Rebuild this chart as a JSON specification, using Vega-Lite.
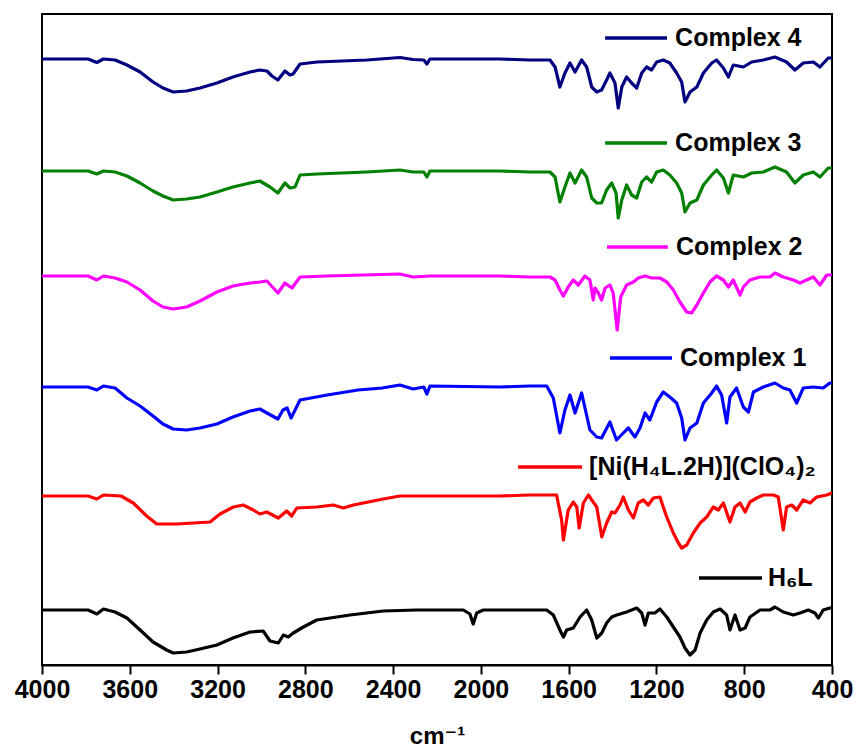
{
  "$schema": "https://vega.github.io/schema/vega-lite/v6.json",
  "autosize": "none",
  "width": 790,
  "height": 651,
  "padding": {"left": 42, "top": 14, "right": 28, "bottom": 87},
  "background": "white",
  "config": {
    "view": {"stroke": "#000000", "strokeWidth": 2},
    "axis": {"grid": false}
  },
  "datasets": {
    "spectra": [
      {"s":"Complex 4","wn":4000,"v":606},{"s":"Complex 4","wn":3790,"v":606},{"s":"Complex 4","wn":3750,"v":602.5},{"s":"Complex 4","wn":3720,"v":606},{"s":"Complex 4","wn":3667,"v":605},{"s":"Complex 4","wn":3613,"v":600},{"s":"Complex 4","wn":3553,"v":593},{"s":"Complex 4","wn":3494,"v":583},{"s":"Complex 4","wn":3449,"v":577},{"s":"Complex 4","wn":3402,"v":573},{"s":"Complex 4","wn":3341,"v":574},{"s":"Complex 4","wn":3280,"v":577},{"s":"Complex 4","wn":3203,"v":582},{"s":"Complex 4","wn":3130,"v":588},{"s":"Complex 4","wn":3052,"v":593},{"s":"Complex 4","wn":3007,"v":595},{"s":"Complex 4","wn":2975,"v":594},{"s":"Complex 4","wn":2952,"v":589},{"s":"Complex 4","wn":2925,"v":585},{"s":"Complex 4","wn":2893,"v":594},{"s":"Complex 4","wn":2870,"v":590},{"s":"Complex 4","wn":2856,"v":591},{"s":"Complex 4","wn":2824,"v":601},{"s":"Complex 4","wn":2747,"v":603},{"s":"Complex 4","wn":2519,"v":605},{"s":"Complex 4","wn":2369,"v":607.5},{"s":"Complex 4","wn":2309,"v":605.5},{"s":"Complex 4","wn":2260,"v":605},{"s":"Complex 4","wn":2246,"v":601},{"s":"Complex 4","wn":2232,"v":606},{"s":"Complex 4","wn":1913,"v":606},{"s":"Complex 4","wn":1776,"v":605},{"s":"Complex 4","wn":1685,"v":605},{"s":"Complex 4","wn":1662,"v":598},{"s":"Complex 4","wn":1640,"v":578},{"s":"Complex 4","wn":1617,"v":592},{"s":"Complex 4","wn":1594,"v":602},{"s":"Complex 4","wn":1571,"v":593},{"s":"Complex 4","wn":1541,"v":605},{"s":"Complex 4","wn":1518,"v":598},{"s":"Complex 4","wn":1495,"v":578},{"s":"Complex 4","wn":1472,"v":573},{"s":"Complex 4","wn":1450,"v":575},{"s":"Complex 4","wn":1427,"v":585},{"s":"Complex 4","wn":1412,"v":592},{"s":"Complex 4","wn":1389,"v":582},{"s":"Complex 4","wn":1374,"v":557},{"s":"Complex 4","wn":1358,"v":578},{"s":"Complex 4","wn":1336,"v":588},{"s":"Complex 4","wn":1313,"v":582},{"s":"Complex 4","wn":1290,"v":577},{"s":"Complex 4","wn":1267,"v":592},{"s":"Complex 4","wn":1245,"v":598},{"s":"Complex 4","wn":1222,"v":595},{"s":"Complex 4","wn":1199,"v":603},{"s":"Complex 4","wn":1169,"v":605},{"s":"Complex 4","wn":1139,"v":602},{"s":"Complex 4","wn":1108,"v":592},{"s":"Complex 4","wn":1085,"v":583},{"s":"Complex 4","wn":1070,"v":563},{"s":"Complex 4","wn":1047,"v":573},{"s":"Complex 4","wn":1016,"v":578},{"s":"Complex 4","wn":986,"v":592},{"s":"Complex 4","wn":948,"v":602},{"s":"Complex 4","wn":926,"v":605},{"s":"Complex 4","wn":895,"v":597},{"s":"Complex 4","wn":872,"v":588},{"s":"Complex 4","wn":850,"v":600},{"s":"Complex 4","wn":804,"v":598},{"s":"Complex 4","wn":766,"v":603},{"s":"Complex 4","wn":713,"v":605},{"s":"Complex 4","wn":660,"v":608},{"s":"Complex 4","wn":607,"v":603},{"s":"Complex 4","wn":569,"v":595},{"s":"Complex 4","wn":531,"v":602},{"s":"Complex 4","wn":485,"v":603},{"s":"Complex 4","wn":455,"v":598},{"s":"Complex 4","wn":417,"v":607},{"s":"Complex 4","wn":401,"v":607},

      {"s":"Complex 3","wn":4000,"v":494},{"s":"Complex 3","wn":3790,"v":494},{"s":"Complex 3","wn":3750,"v":491},{"s":"Complex 3","wn":3720,"v":494},{"s":"Complex 3","wn":3667,"v":493},{"s":"Complex 3","wn":3613,"v":489},{"s":"Complex 3","wn":3553,"v":482},{"s":"Complex 3","wn":3494,"v":474},{"s":"Complex 3","wn":3449,"v":469},{"s":"Complex 3","wn":3402,"v":465},{"s":"Complex 3","wn":3341,"v":466},{"s":"Complex 3","wn":3280,"v":468},{"s":"Complex 3","wn":3203,"v":473},{"s":"Complex 3","wn":3130,"v":478},{"s":"Complex 3","wn":3052,"v":482},{"s":"Complex 3","wn":3007,"v":484},{"s":"Complex 3","wn":2961,"v":478},{"s":"Complex 3","wn":2925,"v":472},{"s":"Complex 3","wn":2893,"v":482},{"s":"Complex 3","wn":2870,"v":477},{"s":"Complex 3","wn":2847,"v":478},{"s":"Complex 3","wn":2824,"v":490},{"s":"Complex 3","wn":2747,"v":491},{"s":"Complex 3","wn":2519,"v":493},{"s":"Complex 3","wn":2369,"v":495},{"s":"Complex 3","wn":2309,"v":493},{"s":"Complex 3","wn":2260,"v":493},{"s":"Complex 3","wn":2246,"v":488},{"s":"Complex 3","wn":2232,"v":494},{"s":"Complex 3","wn":1913,"v":494},{"s":"Complex 3","wn":1776,"v":493},{"s":"Complex 3","wn":1685,"v":493},{"s":"Complex 3","wn":1662,"v":488},{"s":"Complex 3","wn":1640,"v":463},{"s":"Complex 3","wn":1617,"v":478},{"s":"Complex 3","wn":1594,"v":492},{"s":"Complex 3","wn":1571,"v":482},{"s":"Complex 3","wn":1541,"v":495},{"s":"Complex 3","wn":1518,"v":488},{"s":"Complex 3","wn":1495,"v":467},{"s":"Complex 3","wn":1472,"v":462},{"s":"Complex 3","wn":1450,"v":462},{"s":"Complex 3","wn":1427,"v":475},{"s":"Complex 3","wn":1404,"v":482},{"s":"Complex 3","wn":1384,"v":472},{"s":"Complex 3","wn":1374,"v":447},{"s":"Complex 3","wn":1358,"v":465},{"s":"Complex 3","wn":1336,"v":480},{"s":"Complex 3","wn":1313,"v":470},{"s":"Complex 3","wn":1290,"v":467},{"s":"Complex 3","wn":1267,"v":483},{"s":"Complex 3","wn":1245,"v":488},{"s":"Complex 3","wn":1222,"v":483},{"s":"Complex 3","wn":1199,"v":493},{"s":"Complex 3","wn":1169,"v":495},{"s":"Complex 3","wn":1139,"v":490},{"s":"Complex 3","wn":1108,"v":482},{"s":"Complex 3","wn":1085,"v":472},{"s":"Complex 3","wn":1070,"v":453},{"s":"Complex 3","wn":1047,"v":462},{"s":"Complex 3","wn":1016,"v":465},{"s":"Complex 3","wn":986,"v":480},{"s":"Complex 3","wn":948,"v":490},{"s":"Complex 3","wn":926,"v":495},{"s":"Complex 3","wn":895,"v":487},{"s":"Complex 3","wn":872,"v":472},{"s":"Complex 3","wn":850,"v":490},{"s":"Complex 3","wn":804,"v":488},{"s":"Complex 3","wn":766,"v":492},{"s":"Complex 3","wn":713,"v":493},{"s":"Complex 3","wn":660,"v":498},{"s":"Complex 3","wn":607,"v":493},{"s":"Complex 3","wn":569,"v":482},{"s":"Complex 3","wn":531,"v":490},{"s":"Complex 3","wn":485,"v":493},{"s":"Complex 3","wn":455,"v":488},{"s":"Complex 3","wn":417,"v":497},{"s":"Complex 3","wn":401,"v":497},

      {"s":"Complex 2","wn":4000,"v":389},{"s":"Complex 2","wn":3790,"v":389},{"s":"Complex 2","wn":3750,"v":385},{"s":"Complex 2","wn":3720,"v":389},{"s":"Complex 2","wn":3667,"v":387},{"s":"Complex 2","wn":3613,"v":383},{"s":"Complex 2","wn":3553,"v":375},{"s":"Complex 2","wn":3494,"v":364},{"s":"Complex 2","wn":3449,"v":358},{"s":"Complex 2","wn":3402,"v":356},{"s":"Complex 2","wn":3341,"v":358},{"s":"Complex 2","wn":3280,"v":364},{"s":"Complex 2","wn":3203,"v":373},{"s":"Complex 2","wn":3130,"v":379},{"s":"Complex 2","wn":3052,"v":382},{"s":"Complex 2","wn":3007,"v":383},{"s":"Complex 2","wn":2975,"v":384},{"s":"Complex 2","wn":2925,"v":372},{"s":"Complex 2","wn":2893,"v":382},{"s":"Complex 2","wn":2861,"v":377},{"s":"Complex 2","wn":2824,"v":388},{"s":"Complex 2","wn":2700,"v":389},{"s":"Complex 2","wn":2369,"v":391},{"s":"Complex 2","wn":2309,"v":388},{"s":"Complex 2","wn":2232,"v":389},{"s":"Complex 2","wn":1913,"v":389},{"s":"Complex 2","wn":1776,"v":388},{"s":"Complex 2","wn":1685,"v":388},{"s":"Complex 2","wn":1662,"v":385},{"s":"Complex 2","wn":1640,"v":375},{"s":"Complex 2","wn":1624,"v":369},{"s":"Complex 2","wn":1602,"v":378},{"s":"Complex 2","wn":1579,"v":385},{"s":"Complex 2","wn":1556,"v":380},{"s":"Complex 2","wn":1526,"v":389},{"s":"Complex 2","wn":1503,"v":385},{"s":"Complex 2","wn":1488,"v":365},{"s":"Complex 2","wn":1480,"v":377},{"s":"Complex 2","wn":1465,"v":372},{"s":"Complex 2","wn":1450,"v":365},{"s":"Complex 2","wn":1434,"v":377},{"s":"Complex 2","wn":1412,"v":380},{"s":"Complex 2","wn":1397,"v":372},{"s":"Complex 2","wn":1379,"v":335},{"s":"Complex 2","wn":1363,"v":368},{"s":"Complex 2","wn":1336,"v":380},{"s":"Complex 2","wn":1305,"v":383},{"s":"Complex 2","wn":1283,"v":387},{"s":"Complex 2","wn":1252,"v":389},{"s":"Complex 2","wn":1222,"v":387},{"s":"Complex 2","wn":1184,"v":387},{"s":"Complex 2","wn":1153,"v":383},{"s":"Complex 2","wn":1123,"v":375},{"s":"Complex 2","wn":1093,"v":363},{"s":"Complex 2","wn":1062,"v":353},{"s":"Complex 2","wn":1040,"v":352},{"s":"Complex 2","wn":1016,"v":360},{"s":"Complex 2","wn":986,"v":372},{"s":"Complex 2","wn":956,"v":383},{"s":"Complex 2","wn":926,"v":389},{"s":"Complex 2","wn":895,"v":385},{"s":"Complex 2","wn":872,"v":378},{"s":"Complex 2","wn":850,"v":385},{"s":"Complex 2","wn":819,"v":370},{"s":"Complex 2","wn":804,"v":378},{"s":"Complex 2","wn":774,"v":385},{"s":"Complex 2","wn":728,"v":388},{"s":"Complex 2","wn":683,"v":388},{"s":"Complex 2","wn":660,"v":392},{"s":"Complex 2","wn":622,"v":388},{"s":"Complex 2","wn":576,"v":385},{"s":"Complex 2","wn":546,"v":382},{"s":"Complex 2","wn":516,"v":385},{"s":"Complex 2","wn":485,"v":388},{"s":"Complex 2","wn":455,"v":380},{"s":"Complex 2","wn":424,"v":390},{"s":"Complex 2","wn":401,"v":390},

      {"s":"Complex 1","wn":4000,"v":278},{"s":"Complex 1","wn":3790,"v":278},{"s":"Complex 1","wn":3750,"v":275},{"s":"Complex 1","wn":3720,"v":279},{"s":"Complex 1","wn":3667,"v":277},{"s":"Complex 1","wn":3613,"v":267},{"s":"Complex 1","wn":3553,"v":259},{"s":"Complex 1","wn":3494,"v":249},{"s":"Complex 1","wn":3449,"v":241},{"s":"Complex 1","wn":3402,"v":236},{"s":"Complex 1","wn":3341,"v":235},{"s":"Complex 1","wn":3280,"v":237},{"s":"Complex 1","wn":3203,"v":241},{"s":"Complex 1","wn":3130,"v":248},{"s":"Complex 1","wn":3052,"v":254},{"s":"Complex 1","wn":3007,"v":256},{"s":"Complex 1","wn":2975,"v":252},{"s":"Complex 1","wn":2925,"v":246},{"s":"Complex 1","wn":2902,"v":255},{"s":"Complex 1","wn":2883,"v":257},{"s":"Complex 1","wn":2865,"v":247},{"s":"Complex 1","wn":2824,"v":265},{"s":"Complex 1","wn":2700,"v":270},{"s":"Complex 1","wn":2560,"v":275},{"s":"Complex 1","wn":2450,"v":277},{"s":"Complex 1","wn":2369,"v":280},{"s":"Complex 1","wn":2309,"v":276},{"s":"Complex 1","wn":2260,"v":278},{"s":"Complex 1","wn":2246,"v":271},{"s":"Complex 1","wn":2232,"v":279},{"s":"Complex 1","wn":1913,"v":278},{"s":"Complex 1","wn":1776,"v":279},{"s":"Complex 1","wn":1700,"v":279},{"s":"Complex 1","wn":1670,"v":267},{"s":"Complex 1","wn":1640,"v":232},{"s":"Complex 1","wn":1617,"v":255},{"s":"Complex 1","wn":1594,"v":270},{"s":"Complex 1","wn":1571,"v":252},{"s":"Complex 1","wn":1541,"v":272},{"s":"Complex 1","wn":1503,"v":235},{"s":"Complex 1","wn":1472,"v":228},{"s":"Complex 1","wn":1450,"v":227},{"s":"Complex 1","wn":1412,"v":243},{"s":"Complex 1","wn":1382,"v":225},{"s":"Complex 1","wn":1351,"v":232},{"s":"Complex 1","wn":1328,"v":237},{"s":"Complex 1","wn":1298,"v":228},{"s":"Complex 1","wn":1275,"v":237},{"s":"Complex 1","wn":1252,"v":252},{"s":"Complex 1","wn":1230,"v":245},{"s":"Complex 1","wn":1199,"v":263},{"s":"Complex 1","wn":1169,"v":273},{"s":"Complex 1","wn":1139,"v":268},{"s":"Complex 1","wn":1108,"v":262},{"s":"Complex 1","wn":1085,"v":247},{"s":"Complex 1","wn":1070,"v":225},{"s":"Complex 1","wn":1047,"v":237},{"s":"Complex 1","wn":1016,"v":242},{"s":"Complex 1","wn":986,"v":262},{"s":"Complex 1","wn":948,"v":272},{"s":"Complex 1","wn":926,"v":279},{"s":"Complex 1","wn":903,"v":270},{"s":"Complex 1","wn":880,"v":242},{"s":"Complex 1","wn":865,"v":268},{"s":"Complex 1","wn":835,"v":277},{"s":"Complex 1","wn":804,"v":258},{"s":"Complex 1","wn":781,"v":253},{"s":"Complex 1","wn":758,"v":273},{"s":"Complex 1","wn":713,"v":278},{"s":"Complex 1","wn":660,"v":282},{"s":"Complex 1","wn":622,"v":277},{"s":"Complex 1","wn":592,"v":275},{"s":"Complex 1","wn":561,"v":262},{"s":"Complex 1","wn":531,"v":277},{"s":"Complex 1","wn":485,"v":278},{"s":"Complex 1","wn":440,"v":277},{"s":"Complex 1","wn":410,"v":282},{"s":"Complex 1","wn":401,"v":282},

      {"s":"[Ni(H₄L.2H)](ClO₄)₂","wn":4000,"v":169},{"s":"[Ni(H₄L.2H)](ClO₄)₂","wn":3790,"v":169},{"s":"[Ni(H₄L.2H)](ClO₄)₂","wn":3750,"v":166},{"s":"[Ni(H₄L.2H)](ClO₄)₂","wn":3720,"v":170},{"s":"[Ni(H₄L.2H)](ClO₄)₂","wn":3640,"v":169},{"s":"[Ni(H₄L.2H)](ClO₄)₂","wn":3584,"v":162},{"s":"[Ni(H₄L.2H)](ClO₄)₂","wn":3523,"v":149},{"s":"[Ni(H₄L.2H)](ClO₄)₂","wn":3477,"v":141},{"s":"[Ni(H₄L.2H)](ClO₄)₂","wn":3386,"v":141},{"s":"[Ni(H₄L.2H)](ClO₄)₂","wn":3310,"v":142},{"s":"[Ni(H₄L.2H)](ClO₄)₂","wn":3234,"v":143},{"s":"[Ni(H₄L.2H)](ClO₄)₂","wn":3189,"v":151},{"s":"[Ni(H₄L.2H)](ClO₄)₂","wn":3128,"v":158},{"s":"[Ni(H₄L.2H)](ClO₄)₂","wn":3083,"v":160},{"s":"[Ni(H₄L.2H)](ClO₄)₂","wn":3037,"v":155},{"s":"[Ni(H₄L.2H)](ClO₄)₂","wn":3007,"v":151},{"s":"[Ni(H₄L.2H)](ClO₄)₂","wn":2976,"v":153},{"s":"[Ni(H₄L.2H)](ClO₄)₂","wn":2923,"v":147},{"s":"[Ni(H₄L.2H)](ClO₄)₂","wn":2885,"v":154},{"s":"[Ni(H₄L.2H)](ClO₄)₂","wn":2862,"v":149},{"s":"[Ni(H₄L.2H)](ClO₄)₂","wn":2839,"v":157},{"s":"[Ni(H₄L.2H)](ClO₄)₂","wn":2748,"v":158},{"s":"[Ni(H₄L.2H)](ClO₄)₂","wn":2672,"v":160},{"s":"[Ni(H₄L.2H)](ClO₄)₂","wn":2627,"v":157},{"s":"[Ni(H₄L.2H)](ClO₄)₂","wn":2581,"v":160},{"s":"[Ni(H₄L.2H)](ClO₄)₂","wn":2445,"v":166},{"s":"[Ni(H₄L.2H)](ClO₄)₂","wn":2369,"v":169},{"s":"[Ni(H₄L.2H)](ClO₄)₂","wn":2217,"v":169},{"s":"[Ni(H₄L.2H)](ClO₄)₂","wn":2035,"v":169},{"s":"[Ni(H₄L.2H)](ClO₄)₂","wn":1913,"v":169},{"s":"[Ni(H₄L.2H)](ClO₄)₂","wn":1776,"v":170},{"s":"[Ni(H₄L.2H)](ClO₄)₂","wn":1655,"v":170},{"s":"[Ni(H₄L.2H)](ClO₄)₂","wn":1632,"v":145},{"s":"[Ni(H₄L.2H)](ClO₄)₂","wn":1624,"v":125},{"s":"[Ni(H₄L.2H)](ClO₄)₂","wn":1602,"v":155},{"s":"[Ni(H₄L.2H)](ClO₄)₂","wn":1579,"v":163},{"s":"[Ni(H₄L.2H)](ClO₄)₂","wn":1563,"v":158},{"s":"[Ni(H₄L.2H)](ClO₄)₂","wn":1552,"v":137},{"s":"[Ni(H₄L.2H)](ClO₄)₂","wn":1533,"v":162},{"s":"[Ni(H₄L.2H)](ClO₄)₂","wn":1510,"v":170},{"s":"[Ni(H₄L.2H)](ClO₄)₂","wn":1495,"v":165},{"s":"[Ni(H₄L.2H)](ClO₄)₂","wn":1472,"v":158},{"s":"[Ni(H₄L.2H)](ClO₄)₂","wn":1449,"v":128},{"s":"[Ni(H₄L.2H)](ClO₄)₂","wn":1427,"v":142},{"s":"[Ni(H₄L.2H)](ClO₄)₂","wn":1404,"v":153},{"s":"[Ni(H₄L.2H)](ClO₄)₂","wn":1389,"v":152},{"s":"[Ni(H₄L.2H)](ClO₄)₂","wn":1366,"v":160},{"s":"[Ni(H₄L.2H)](ClO₄)₂","wn":1351,"v":168},{"s":"[Ni(H₄L.2H)](ClO₄)₂","wn":1328,"v":155},{"s":"[Ni(H₄L.2H)](ClO₄)₂","wn":1305,"v":147},{"s":"[Ni(H₄L.2H)](ClO₄)₂","wn":1283,"v":162},{"s":"[Ni(H₄L.2H)](ClO₄)₂","wn":1260,"v":165},{"s":"[Ni(H₄L.2H)](ClO₄)₂","wn":1237,"v":160},{"s":"[Ni(H₄L.2H)](ClO₄)₂","wn":1214,"v":167},{"s":"[Ni(H₄L.2H)](ClO₄)₂","wn":1184,"v":168},{"s":"[Ni(H₄L.2H)](ClO₄)₂","wn":1169,"v":158},{"s":"[Ni(H₄L.2H)](ClO₄)₂","wn":1153,"v":148},{"s":"[Ni(H₄L.2H)](ClO₄)₂","wn":1123,"v":132},{"s":"[Ni(H₄L.2H)](ClO₄)₂","wn":1100,"v":122},{"s":"[Ni(H₄L.2H)](ClO₄)₂","wn":1085,"v":117},{"s":"[Ni(H₄L.2H)](ClO₄)₂","wn":1062,"v":120},{"s":"[Ni(H₄L.2H)](ClO₄)₂","wn":1032,"v":132},{"s":"[Ni(H₄L.2H)](ClO₄)₂","wn":1001,"v":142},{"s":"[Ni(H₄L.2H)](ClO₄)₂","wn":971,"v":148},{"s":"[Ni(H₄L.2H)](ClO₄)₂","wn":941,"v":158},{"s":"[Ni(H₄L.2H)](ClO₄)₂","wn":918,"v":155},{"s":"[Ni(H₄L.2H)](ClO₄)₂","wn":895,"v":162},{"s":"[Ni(H₄L.2H)](ClO₄)₂","wn":865,"v":143},{"s":"[Ni(H₄L.2H)](ClO₄)₂","wn":842,"v":158},{"s":"[Ni(H₄L.2H)](ClO₄)₂","wn":819,"v":162},{"s":"[Ni(H₄L.2H)](ClO₄)₂","wn":796,"v":153},{"s":"[Ni(H₄L.2H)](ClO₄)₂","wn":774,"v":163},{"s":"[Ni(H₄L.2H)](ClO₄)₂","wn":743,"v":167},{"s":"[Ni(H₄L.2H)](ClO₄)₂","wn":713,"v":170},{"s":"[Ni(H₄L.2H)](ClO₄)₂","wn":667,"v":170},{"s":"[Ni(H₄L.2H)](ClO₄)₂","wn":645,"v":168},{"s":"[Ni(H₄L.2H)](ClO₄)₂","wn":622,"v":135},{"s":"[Ni(H₄L.2H)](ClO₄)₂","wn":607,"v":158},{"s":"[Ni(H₄L.2H)](ClO₄)₂","wn":584,"v":160},{"s":"[Ni(H₄L.2H)](ClO₄)₂","wn":561,"v":155},{"s":"[Ni(H₄L.2H)](ClO₄)₂","wn":531,"v":165},{"s":"[Ni(H₄L.2H)](ClO₄)₂","wn":500,"v":162},{"s":"[Ni(H₄L.2H)](ClO₄)₂","wn":470,"v":168},{"s":"[Ni(H₄L.2H)](ClO₄)₂","wn":424,"v":170},{"s":"[Ni(H₄L.2H)](ClO₄)₂","wn":401,"v":172},

      {"s":"H₆L","wn":4000,"v":55},{"s":"H₆L","wn":3790,"v":55},{"s":"H₆L","wn":3750,"v":51},{"s":"H₆L","wn":3720,"v":56},{"s":"H₆L","wn":3667,"v":53},{"s":"H₆L","wn":3613,"v":47},{"s":"H₆L","wn":3553,"v":35},{"s":"H₆L","wn":3494,"v":23},{"s":"H₆L","wn":3432,"v":15},{"s":"H₆L","wn":3402,"v":12},{"s":"H₆L","wn":3341,"v":13},{"s":"H₆L","wn":3280,"v":16},{"s":"H₆L","wn":3203,"v":20},{"s":"H₆L","wn":3130,"v":27},{"s":"H₆L","wn":3052,"v":33},{"s":"H₆L","wn":2992,"v":34},{"s":"H₆L","wn":2961,"v":24},{"s":"H₆L","wn":2923,"v":22},{"s":"H₆L","wn":2900,"v":30},{"s":"H₆L","wn":2878,"v":28},{"s":"H₆L","wn":2855,"v":32},{"s":"H₆L","wn":2809,"v":38},{"s":"H₆L","wn":2748,"v":45},{"s":"H₆L","wn":2596,"v":50},{"s":"H₆L","wn":2445,"v":54},{"s":"H₆L","wn":2293,"v":55},{"s":"H₆L","wn":2080,"v":55},{"s":"H₆L","wn":2050,"v":51},{"s":"H₆L","wn":2035,"v":41},{"s":"H₆L","wn":2019,"v":52},{"s":"H₆L","wn":1989,"v":55},{"s":"H₆L","wn":1913,"v":55},{"s":"H₆L","wn":1776,"v":55},{"s":"H₆L","wn":1700,"v":55},{"s":"H₆L","wn":1670,"v":50},{"s":"H₆L","wn":1640,"v":35},{"s":"H₆L","wn":1624,"v":28},{"s":"H₆L","wn":1609,"v":35},{"s":"H₆L","wn":1579,"v":37},{"s":"H₆L","wn":1548,"v":48},{"s":"H₆L","wn":1518,"v":55},{"s":"H₆L","wn":1495,"v":45},{"s":"H₆L","wn":1472,"v":27},{"s":"H₆L","wn":1449,"v":32},{"s":"H₆L","wn":1427,"v":42},{"s":"H₆L","wn":1404,"v":48},{"s":"H₆L","wn":1381,"v":50},{"s":"H₆L","wn":1336,"v":53},{"s":"H₆L","wn":1290,"v":57},{"s":"H₆L","wn":1267,"v":52},{"s":"H₆L","wn":1252,"v":40},{"s":"H₆L","wn":1237,"v":52},{"s":"H₆L","wn":1207,"v":52},{"s":"H₆L","wn":1184,"v":56},{"s":"H₆L","wn":1153,"v":48},{"s":"H₆L","wn":1123,"v":38},{"s":"H₆L","wn":1093,"v":28},{"s":"H₆L","wn":1070,"v":17},{"s":"H₆L","wn":1047,"v":10},{"s":"H₆L","wn":1024,"v":15},{"s":"H₆L","wn":1001,"v":32},{"s":"H₆L","wn":971,"v":45},{"s":"H₆L","wn":941,"v":53},{"s":"H₆L","wn":910,"v":56},{"s":"H₆L","wn":880,"v":50},{"s":"H₆L","wn":865,"v":35},{"s":"H₆L","wn":842,"v":50},{"s":"H₆L","wn":819,"v":35},{"s":"H₆L","wn":796,"v":37},{"s":"H₆L","wn":774,"v":48},{"s":"H₆L","wn":728,"v":55},{"s":"H₆L","wn":683,"v":55},{"s":"H₆L","wn":660,"v":58},{"s":"H₆L","wn":622,"v":53},{"s":"H₆L","wn":576,"v":50},{"s":"H₆L","wn":546,"v":52},{"s":"H₆L","wn":508,"v":55},{"s":"H₆L","wn":478,"v":52},{"s":"H₆L","wn":462,"v":47},{"s":"H₆L","wn":440,"v":55},{"s":"H₆L","wn":410,"v":57},{"s":"H₆L","wn":401,"v":57}
    ],
    "labels": [
      {"s":"Complex 4","x1":1434,"x2":1152,"xt":1115,"y":627},
      {"s":"Complex 3","x1":1434,"x2":1152,"xt":1115,"y":522},
      {"s":"Complex 2","x1":1425,"x2":1148,"xt":1111,"y":418},
      {"s":"Complex 1","x1":1412,"x2":1129,"xt":1093,"y":307},
      {"s":"[Ni(H₄L.2H)](ClO₄)₂","x1":1831,"x2":1539,"xt":1507,"y":198},
      {"s":"H₆L","x1":1006,"x2":719,"xt":692,"y":87}
    ]
  },
  "layer": [
    {
      "data": {"name": "spectra"},
      "mark": {"type": "line", "strokeWidth": 3.2, "strokeJoin": "round"},
      "encoding": {
        "x": {
          "field": "wn", "type": "quantitative",
          "scale": {"domain": [400, 4000], "reverse": true, "nice": false, "zero": false},
          "axis": {
            "title": "cm⁻¹",
            "values": [4000, 3600, 3200, 2800, 2400, 2000, 1600, 1200, 800, 400],
            "format": "d",
            "labelFont": "Liberation Sans Narrow, Liberation Sans, Arial, sans-serif",
            "labelFontSize": 25,
            "labelFontWeight": "bold",
            "labelColor": "#000000",
            "labelPadding": 3,
            "labelOverlap": false,
            "labelFlush": false,
            "titleFont": "Liberation Sans, DejaVu Sans, sans-serif",
            "titleFontSize": 24,
            "titleFontWeight": "bold",
            "titleColor": "#000000",
            "titlePadding": 22,
            "domainColor": "#000000",
            "domainWidth": 2,
            "tickColor": "#000000",
            "tickWidth": 2,
            "tickSize": 9,
            "grid": false
          }
        },
        "y": {
          "field": "v", "type": "quantitative",
          "scale": {"domain": [0, 651], "nice": false, "zero": false},
          "axis": null
        },
        "color": {
          "field": "s", "type": "nominal",
          "scale": {
            "domain": ["Complex 4", "Complex 3", "Complex 2", "Complex 1", "[Ni(H₄L.2H)](ClO₄)₂", "H₆L"],
            "range": ["#000080", "#008000", "#ff00ff", "#0000ff", "#ff0000", "#000000"]
          },
          "legend": null
        },
        "detail": {"field": "s"}
      }
    },
    {
      "data": {"name": "labels"},
      "mark": {"type": "rule", "strokeWidth": 3.5},
      "encoding": {
        "x": {"field": "x1", "type": "quantitative"},
        "x2": {"field": "x2"},
        "y": {"field": "y", "type": "quantitative"},
        "color": {"field": "s", "type": "nominal", "legend": null}
      }
    },
    {
      "data": {"name": "labels"},
      "mark": {"type": "text", "align": "left", "baseline": "middle", "font": "Liberation Sans, Arial, sans-serif", "fontSize": 25, "fontWeight": "bold", "color": "#000000"},
      "encoding": {
        "x": {"field": "xt", "type": "quantitative"},
        "y": {"field": "y", "type": "quantitative"},
        "text": {"field": "s"}
      }
    }
  ]
}
